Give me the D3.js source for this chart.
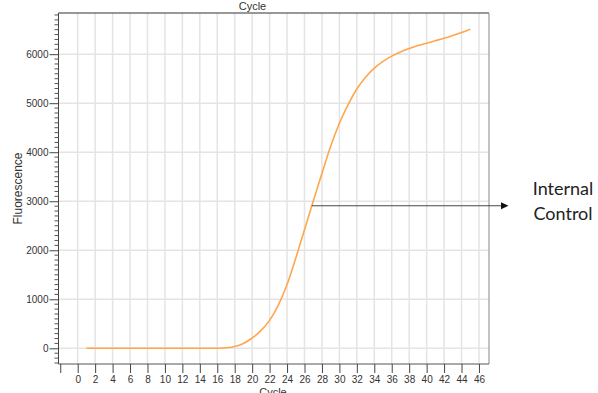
<!DOCTYPE html>
<html><head><meta charset="utf-8">
<script src="https://cdn.jsdelivr.net/npm/d3@7"></script>
<style>html,body{margin:0;padding:0;background:#fff;}svg{display:block;}</style>
</head><body>
<svg id="c" width="598" height="393"></svg>
<script>
const cycles = d3.range(1, 46);
const fluorescence = [0,0,0,0,0,0,0,0,0,0,0,0,0,0,0,2,10,35,100,210,360,570,880,1300,1840,2420,3000,3570,4120,4590,4970,5290,5530,5715,5855,5960,6045,6115,6175,6225,6275,6325,6380,6440,6510];
const xTicks = d3.range(-2, 47, 2);
const yTicks = d3.range(0, 7000, 1000);
const yMinorTicks = d3.range(-300, 6900, 100);
const xLabel = "Cycle";
const yLabel = "Fluorescence";
const annotation = ["Internal", "Control"];
const annotationCycle = 26.83, annotationValue = 2908;

const svg = d3.select("#c");
const L = 58.5, R = 489, T = 13, B = 364;
const x = d3.scaleLinear().domain([-2.2, 47.15]).range([L, R]);
const y = d3.scaleLinear().domain([-320, 6840]).range([B, T]);

// gridlines
svg.append("g").selectAll("line").data(xTicks.filter(d => d >= 0)).join("line")
  .attr("x1", d => x(d)).attr("x2", d => x(d)).attr("y1", T).attr("y2", B)
  .attr("stroke", "#e4e4e4").attr("stroke-width", 1.5);
svg.append("g").selectAll("line").data(yTicks).join("line")
  .attr("x1", L).attr("x2", R).attr("y1", d => y(d)).attr("y2", d => y(d))
  .attr("stroke", "#e4e4e4").attr("stroke-width", 1.5);

// frame
svg.append("line").attr("x1", L).attr("x2", R).attr("y1", T).attr("y2", T).attr("stroke", "#333").attr("stroke-width", 1.2);
svg.append("line").attr("x1", R).attr("x2", R).attr("y1", T).attr("y2", B).attr("stroke", "#9a9a9a").attr("stroke-width", 1.2);

// y axis
const yAxis = d3.axisLeft(y).tickValues(yTicks).tickSize(9).tickPadding(1).tickFormat(d3.format("d"));
const gy = svg.append("g").attr("transform", `translate(${L},0)`).call(yAxis);
gy.select(".domain").attr("stroke", "#444").attr("d", `M0,${T}V${B}`);
gy.selectAll(".tick line").attr("stroke", "#444");
gy.selectAll("text").attr("font-family", "Arial, 'Liberation Sans', sans-serif").attr("font-size", 10).attr("fill", "#333");
svg.append("g").attr("transform", `translate(${L},0)`).selectAll("line")
  .data(yMinorTicks.filter(d => d % 1000 !== 0)).join("line")
  .attr("x1", -4).attr("x2", 0).attr("y1", d => y(d)).attr("y2", d => y(d))
  .attr("stroke", "#555").attr("stroke-width", 1);

// x axis
const xAxis = d3.axisBottom(x).tickValues(xTicks).tickSize(9).tickPadding(3).tickFormat(d => d < 0 ? "" : d);
const gx = svg.append("g").attr("transform", `translate(0,${B})`).call(xAxis);
gx.select(".domain").attr("stroke", "#555").attr("d", `M${L},0H${R}`);
gx.selectAll(".tick line").attr("stroke", "#444");
gx.selectAll("text").attr("font-family", "Arial, 'Liberation Sans', sans-serif").attr("font-size", 10).attr("fill", "#333");

// axis labels
svg.append("text").attr("x", 273).attr("y", 396).attr("text-anchor", "middle")
  .attr("font-family", "Arial, 'Liberation Sans', sans-serif").attr("font-size", 11).attr("fill", "#333").text(xLabel);
svg.append("text").attr("x", 252.5).attr("y", 9.5).attr("text-anchor", "middle")
  .attr("font-family", "Arial, 'Liberation Sans', sans-serif").attr("font-size", 11).attr("fill", "#333").text(xLabel);
svg.append("text").attr("transform", "translate(22,188.5) rotate(-90)").attr("text-anchor", "middle")
  .attr("font-family", "Arial, 'Liberation Sans', sans-serif").attr("font-size", 12).attr("fill", "#333").text(yLabel);

// curve
const line = d3.line().x((d, i) => x(cycles[i])).y(d => y(d)).curve(d3.curveMonotoneX);
svg.append("path").datum(fluorescence).attr("d", line)
  .attr("fill", "none").attr("stroke", "#ffa64d").attr("stroke-width", 1.6);

// annotation arrow
const ax0 = x(annotationCycle), ay = y(annotationValue);
svg.append("line").attr("x1", ax0).attr("x2", 502).attr("y1", ay).attr("y2", ay).attr("stroke", "#333").attr("stroke-width", 0.9);
svg.append("path").attr("d", `M501,${ay-3.5}L508.5,${ay}L501,${ay+3.5}Z`).attr("fill", "#111");
svg.append("g").selectAll("text").data(annotation).join("text")
  .attr("x", 563).attr("y", (d, i) => 195 + i * 25).attr("text-anchor", "middle")
  .attr("font-family", "Lato, 'Open Sans', sans-serif").attr("font-size", 18).attr("fill", "#222").text(d => d);
</script>
</body></html>
